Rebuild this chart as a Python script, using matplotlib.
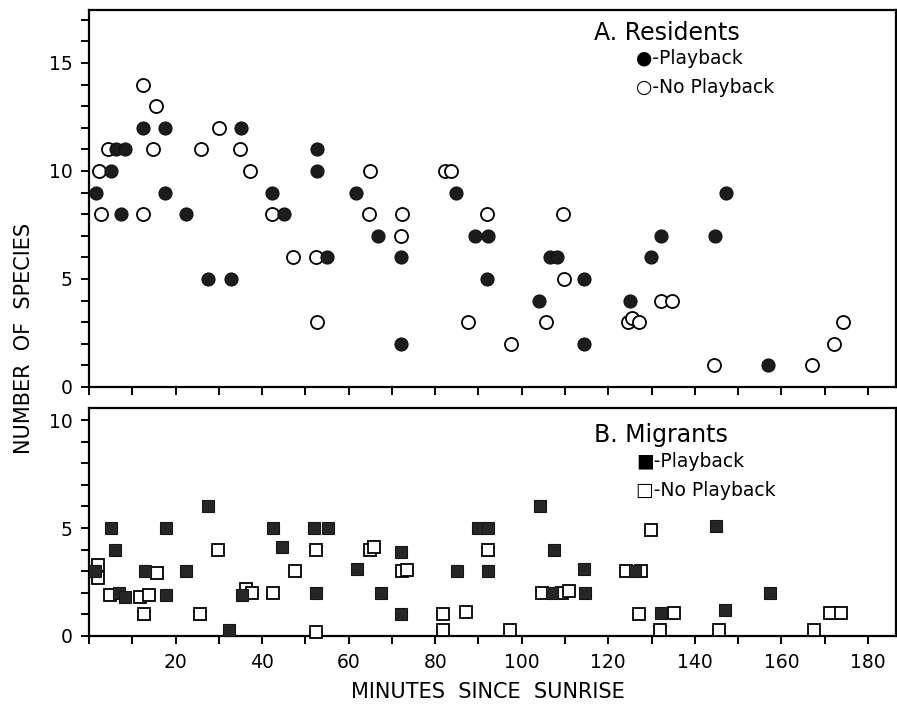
import matplotlib
matplotlib.use("Agg")
import matplotlib.pyplot as plt
from matplotlib.ticker import MultipleLocator

plt.rcParams['font.family'] = ['DejaVu Sans']

# ---- data: residents (panel A) ----
res_play_x = [1.6, 5.2, 6.2, 8.3, 7.4, 12.5, 17.6, 17.6, 22.4, 27.6, 32.8, 35.1, 42.3, 45.0,
              52.7, 52.7, 54.9, 61.7, 66.8, 72.2, 72.1, 84.9, 89.3, 92.1, 92.0, 103.9, 106.5,
              108.1, 114.5, 114.4, 125.0, 129.8, 132.1, 144.6, 147.1, 156.9]
res_play_y = [9, 10, 11, 11, 8, 12, 12, 9, 8, 5, 5, 12, 9, 8, 11, 10, 6, 9, 7, 6, 2, 9, 7, 7, 5,
              4, 6, 6, 5, 2, 4, 6, 7, 7, 9, 1]
res_noplay_x = [2.2, 2.7, 4.5, 12.5, 12.5, 15.6, 14.7, 25.8, 30.1, 34.9, 37.3, 42.4, 47.2, 52.4,
                52.6, 64.9, 64.7, 72.4, 72.0, 82.2, 83.6, 87.6, 92.0, 97.6, 105.5, 109.5, 109.7,
                124.5, 125.6, 127.1, 132.2, 134.8, 144.4, 167.1, 172.1, 174.2]
res_noplay_y = [10, 8, 11, 14, 8, 13, 11, 11, 12, 11, 10, 8, 6, 6, 3, 10, 8, 8, 7, 10, 10, 3, 8,
                2, 3, 8, 5, 3, 3.2, 3, 4, 4, 1, 1, 2, 3]

# ---- data: migrants (panel B) ----
mig_play_x = [1.5, 5.2, 6.0, 7.0, 8.3, 12.9, 17.7, 17.9, 22.4, 27.6, 32.4, 35.4, 42.6, 44.6,
              52.0, 55.3, 52.4, 62.0, 67.4, 72.2, 72.2, 85.0, 89.9, 92.2, 92.2, 104.3, 107.4,
              107.0, 114.4, 114.7, 126.1, 132.3, 144.8, 147.0, 157.4]
mig_play_y = [3, 5, 4, 2, 1.8, 3, 5, 1.9, 3, 6, 0.3, 1.9, 5, 4.1, 5, 5, 2, 3.1, 2, 3.9, 1, 3,
              5, 5, 3, 6, 4, 2, 3.1, 2, 3, 1.05, 5.1, 1.2, 2]
mig_noplay_x = [2.0, 2.0, 4.8, 11.9, 13.9, 12.8, 15.8, 25.6, 29.7, 36.2, 37.7, 42.6, 47.6, 52.4,
                52.4, 65.0, 65.8, 72.4, 73.5, 81.7, 81.7, 87.2, 92.2, 97.4, 104.7, 109.3, 110.9,
                124.2, 127.6, 129.9, 127.0, 135.3, 132.0, 145.5, 167.5, 171.3, 173.8]
mig_noplay_y = [3.3, 2.7, 1.9, 1.8, 1.9, 1.0, 2.9, 1.0, 4, 2.2, 2, 2, 3, 4, 0.2, 4, 4.1, 3, 3.05,
                1, 0.3, 1.1, 4, 0.3, 2, 2, 2.1, 3, 3, 4.9, 1, 1.05, 0.3, 0.3, 0.3, 1.05, 1.05]

x_ticklabels = ["20", "40", "60", "80", "100", "120", "140", "160", "180"]

fig = plt.figure(figsize=(8.97, 7.08), dpi=100)
axA = fig.add_axes([0.0992, 0.4534, 0.8997, 0.5325])
axB = fig.add_axes([0.0992, 0.1017, 0.8997, 0.3220])

for ax in (axA, axB):
    ax.set_xlim(0, 186.5)
    ax.xaxis.set_major_locator(MultipleLocator(20))
    ax.xaxis.set_minor_locator(MultipleLocator(10))
    ax.yaxis.set_minor_locator(MultipleLocator(1))
    ax.yaxis.set_major_locator(MultipleLocator(5))
    for s in ax.spines.values():
        s.set_linewidth(1.6)
    ax.tick_params(which='both', direction='out', length=6, width=1.4, labelsize=13.5, pad=6)

axA.set_ylim(0, 17.45)
axB.set_ylim(0, 10.56)
axA.tick_params(axis='x', which='both', labelbottom=False)
axB.set_xticks([20, 40, 60, 80, 100, 120, 140, 160, 180])
axB.set_xticklabels(x_ticklabels)
axA.set_yticks([0, 5, 10, 15])
axB.set_yticks([0, 5, 10])

# panel A
axA.plot(res_noplay_x, res_noplay_y, 'o', ms=9.4, mfc='white', mec='black', mew=1.3,
         linestyle='none', clip_on=False, zorder=3)
axA.plot(res_play_x, res_play_y, 'o', ms=9.4, mfc='#1c1c1c', mec='#111111', mew=0.8,
         linestyle='none', clip_on=False, zorder=4)

# panel B
axB.plot(mig_noplay_x, mig_noplay_y, 's', ms=8.0, mfc='white', mec='black', mew=1.3,
         linestyle='none', clip_on=False, zorder=3)
axB.plot(mig_play_x, mig_play_y, 's', ms=8.0, mfc='#262626', mec='#151515', mew=0.8,
         linestyle='none', clip_on=False, zorder=4)

# panel annotations
axA.text(0.626, 0.938, "A. Residents", transform=axA.transAxes, fontsize=17,
         va='center', ha='left')
axA.text(0.678, 0.870, "●-Playback", transform=axA.transAxes, fontsize=13.5,
         va='center', ha='left')
axA.text(0.678, 0.795, "○-No Playback", transform=axA.transAxes, fontsize=13.5,
         va='center', ha='left')

axB.text(0.626, 0.88, "B. Migrants", transform=axB.transAxes, fontsize=17,
         va='center', ha='left')
axB.text(0.678, 0.765, "■-Playback", transform=axB.transAxes, fontsize=13.5,
         va='center', ha='left')
axB.text(0.678, 0.640, "□-No Playback", transform=axB.transAxes, fontsize=13.5,
         va='center', ha='left')

fig.text(0.544, 1 - 692 / 708, "MINUTES  SINCE  SUNRISE", fontsize=15,
         ha='center', va='center')
fig.text(24 / 897, 1 - 338 / 708, "NUMBER  OF  SPECIES", fontsize=15,
         ha='center', va='center', rotation=90)

fig.savefig("out.png", dpi=100)
